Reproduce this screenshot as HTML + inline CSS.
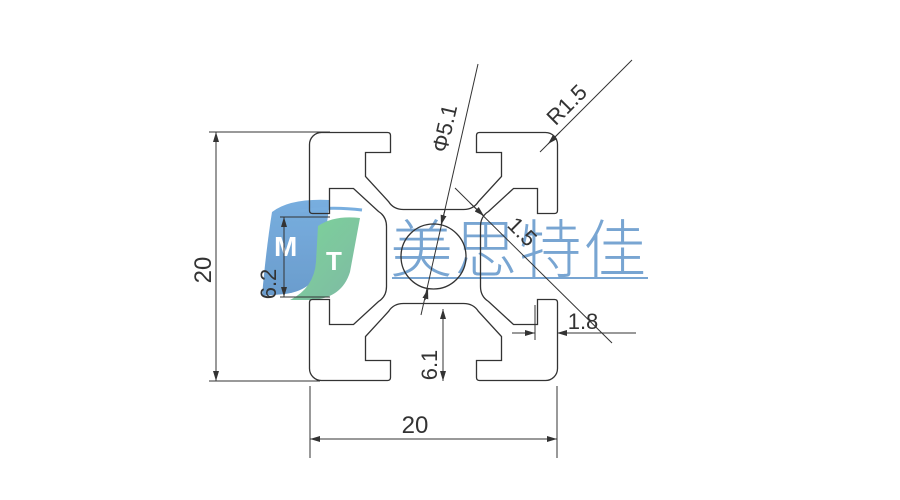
<!DOCTYPE html>
<html><head><meta charset="utf-8"><style>
html,body{margin:0;padding:0;background:#fff;width:900px;height:500px;overflow:hidden}
svg{display:block}
text{font-family:"Liberation Sans","DejaVu Sans",sans-serif;fill:#333}
</style></head><body>
<svg width="900" height="500" viewBox="0 0 900 500" xmlns="http://www.w3.org/2000/svg">
<defs>
<marker id="a" viewBox="0 0 10 6" refX="10" refY="3" markerWidth="10" markerHeight="6" orient="auto-start-reverse" markerUnits="userSpaceOnUse"><path d="M0,0 L10,3 L0,6 z" fill="#333"/></marker>
<linearGradient id="gb" x1="0" y1="0" x2="0" y2="1"><stop offset="0" stop-color="#6aa6dc"/><stop offset="1" stop-color="#5b92c8"/></linearGradient>
<linearGradient id="gg" x1="0" y1="0" x2="1" y2="1"><stop offset="0" stop-color="#6fd08f"/><stop offset="1" stop-color="#72b39a"/></linearGradient>
</defs>

<!-- logo -->
<g opacity="0.9">
<path d="M272,212 Q290,198 330,200 L322,262 Q316,290 285,294 L262,296 Q266,250 272,212 Z" fill="url(#gb)"/>
<path d="M318,226 Q334,215 360,218 L350,272 Q342,298 312,300 L290,300 Q314,288 316,262 Z" fill="url(#gg)"/>
<path d="M300,211 Q330,206 362,210" stroke="#6aa6dc" stroke-width="3" fill="none"/>
<text x="274" y="256" font-size="28" font-weight="bold" style="fill:#fff">M</text>
<text x="326" y="270" font-size="26" font-weight="bold" style="fill:#fff">T</text>
</g>

<!-- Chinese text -->
<text x="390" y="272" font-size="63" textLength="256" lengthAdjust="spacing" style="fill:#78a5d2;font-family:'Liberation Sans','Noto Sans CJK SC',sans-serif;font-weight:300">美思特佳</text>
<line x1="392" y1="278" x2="648" y2="278" stroke="#78a5d2" stroke-width="2"/>

<!-- profile -->
<g transform="translate(433.5,256.5)" stroke="#333" stroke-width="1.3" fill="none">
<g id="side"><path d="M-124,-112 A12,12 0 0 1 -112,-124 L-46,-124 Q-43,-124 -43,-121 L-43,-104 L-68,-104 L-68,-80 L-45,-55 Q-40,-47 -30,-47 L30,-47 Q40,-47 45,-55 L68,-80 L68,-104 L43,-104 L43,-121 Q43,-124 46,-124 L112,-124"/></g>
<use href="#side" transform="rotate(90)"/>
<use href="#side" transform="rotate(180)"/>
<use href="#side" transform="rotate(270)"/>
<circle cx="0" cy="0" r="32.5"/>
</g>

<g stroke="#333" stroke-width="1" fill="none">
<line x1="209" y1="132" x2="330" y2="132"/>
<line x1="209" y1="381" x2="320" y2="381"/>
<line x1="216" y1="132" x2="216" y2="381" marker-start="url(#a)" marker-end="url(#a)"/>
<line x1="310" y1="386" x2="310" y2="458"/>
<line x1="557" y1="386" x2="557" y2="458"/>
<line x1="310" y1="439" x2="557" y2="439" marker-start="url(#a)" marker-end="url(#a)"/>
<line x1="280" y1="217" x2="330" y2="217"/>
<line x1="280" y1="297" x2="330" y2="297"/>
<line x1="284" y1="217" x2="284" y2="297" marker-start="url(#a)" marker-end="url(#a)"/>
<line x1="443" y1="309" x2="443" y2="381" marker-start="url(#a)" marker-end="url(#a)"/>
<line x1="512" y1="333" x2="535" y2="333" marker-end="url(#a)"/>
<line x1="636" y1="333" x2="557" y2="333" marker-end="url(#a)"/>
<line x1="535" y1="305" x2="535" y2="340"/>
<line x1="478" y1="64" x2="421" y2="315"/>
<line x1="445" y1="210" x2="441" y2="225" marker-end="url(#a)"/>
<line x1="425" y1="300" x2="428" y2="289" marker-end="url(#a)"/>
<line x1="632" y1="60" x2="540" y2="152"/>
<line x1="560" y1="132" x2="548" y2="144" marker-end="url(#a)"/>
<line x1="455" y1="188" x2="612" y2="343"/>
<line x1="470" y1="203" x2="484" y2="216" marker-end="url(#a)"/>
</g>

<text font-size="24" transform="translate(211,270) rotate(-90)" text-anchor="middle">20</text>
<text x="415" y="433" font-size="24" text-anchor="middle">20</text>
<text font-size="22" transform="translate(276,284) rotate(-90)" text-anchor="middle">6.2</text>
<text font-size="22" transform="translate(437,365) rotate(-90)" text-anchor="middle">6.1</text>
<text x="583" y="329" font-size="22" text-anchor="middle">1.8</text>
<text font-size="22" transform="translate(452,130) rotate(-77)" text-anchor="middle">Φ5.1</text>
<text font-size="22" transform="translate(572,110) rotate(-45)" text-anchor="middle">R1.5</text>
<text font-size="22" transform="translate(517,237) rotate(45)" text-anchor="middle">1.5</text>
</svg>
</body></html>
